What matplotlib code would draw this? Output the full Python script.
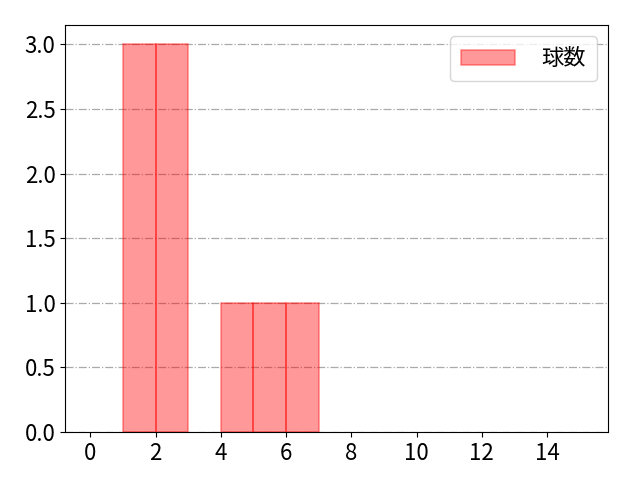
import matplotlib
matplotlib.use('Agg')
import matplotlib.pyplot as plt

plt.rcParams['font.family'] = ['Noto Sans CJK JP', 'DejaVu Sans']

# bin left edges and counts
bin_left = [0, 1, 2, 3, 4, 5, 6, 7, 8, 9, 10, 11, 12, 13, 14]
counts = [0, 3, 3, 0, 1, 1, 1, 0, 0, 0, 0, 0, 0, 0, 0]
label = '球数'

# skip empty bins so no edge line runs along the baseline
xs = [x for x, c in zip(bin_left, counts) if c > 0]
hs = [c for c in counts if c > 0]

fig, ax = plt.subplots(figsize=(6.4, 4.8), dpi=100)
ax.bar(xs, hs, width=1, align='edge', color='red', alpha=0.4,
       edgecolor='red', linewidth=1.2, label=label)
ax.set_xlim(-0.77, 15.87)
ax.set_ylim(0, 3.15)
ax.set_xticks(range(0, 15, 2))
ax.grid(axis='y', linestyle='-.', color='#aaaaaa', linewidth=0.9)
ax.set_axisbelow(True)
ax.tick_params(labelsize=16)
ax.legend(fontsize=16, loc='upper right', handlelength=2.4, handletextpad=1.2,
          borderpad=0.5)
fig.subplots_adjust(left=0.102, right=0.95, top=0.948, bottom=0.1)
fig.savefig('out.png', dpi=100)
